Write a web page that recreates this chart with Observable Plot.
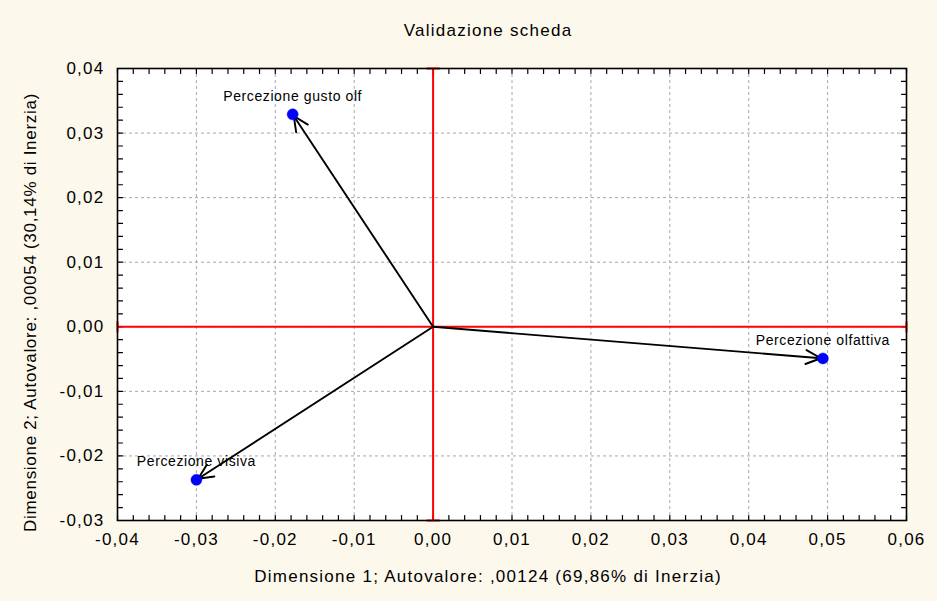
<!DOCTYPE html>
<html>
<head>
<meta charset="utf-8">
<script src="https://cdn.jsdelivr.net/npm/d3@7"></script>
<script src="https://cdn.jsdelivr.net/npm/@observablehq/plot@0.6"></script>
<style>
  html, body { margin: 0; padding: 0; background: #fdf8ec; }
  #chart svg text { letter-spacing: 1.25px; }
  #chart svg g.pt-labels text { letter-spacing: 0.6px; }
  #chart svg g.ylab text { letter-spacing: 0.7px; }
</style>
</head>
<body>
<div id="chart"></div>
<script>
// ---- data ----
const titleText = "Validazione scheda";
const xLabel = "Dimensione 1; Autovalore: ,00124 (69,86% di Inerzia)";
const yLabel = "Dimensione 2; Autovalore: ,00054 (30,14% di Inerzia)";
const names = ["Percezione gusto olf", "Percezione olfattiva", "Percezione visiva"];
const dim1 = [-0.0178, 0.0494, -0.0300];
const dim2 = [0.0329, -0.0049, -0.0237];
const xTicks = [-0.04, -0.03, -0.02, -0.01, 0.00, 0.01, 0.02, 0.03, 0.04, 0.05, 0.06];
const yTicks = [-0.03, -0.02, -0.01, 0.00, 0.01, 0.02, 0.03, 0.04];
const xDomain = [-0.04, 0.06];
const yDomain = [-0.03, 0.04];

const points = names.map((n, i) => ({name: n, x: dim1[i], y: dim2[i]}));
const xMinor = d3.range(-40, 61, 2).map(d => d / 1000);
const yMinor = d3.range(-30, 41, 2).map(d => d / 1000);
const fmt = d => d3.format(".2f")(Math.abs(d) < 1e-9 ? 0 : d).replace("−", "-").replace(".", ",");

// shapes
const capShape = {draw(ctx, l) { ctx.moveTo(0, -l / 2); ctx.lineTo(0, l / 2); }};
const tickShape = {draw(ctx, l) { ctx.moveTo(0, 0); ctx.lineTo(0, -l); }};
const vCaps = xDomain.map(x => ({x, y: 0}));      // ends of horizontal red line
const hCaps = yDomain.map(y => ({x: 0, y}));      // ends of vertical red line

// inward tick positions along the four frame edges
const bottomTicks = xMinor.map(x => ({x, y: yDomain[0]}));
const topTicks = xMinor.map(x => ({x, y: yDomain[1]}));
const leftTicks = yMinor.map(y => ({x: xDomain[0], y}));
const rightTicks = yMinor.map(y => ({x: xDomain[1], y}));
const tk = {x: "x", y: "y", length: 5, shape: tickShape, anchor: "start", stroke: "black", strokeWidth: 1.2};

const chart = Plot.plot({
  width: 937,
  height: 601,
  marginLeft: 117,
  marginRight: 31,
  marginTop: 68,
  marginBottom: 81,
  x: {domain: xDomain, label: null},
  y: {domain: yDomain, label: null},
  style: {background: "#fdf8ec", fontFamily: "'Liberation Sans', Arial, sans-serif", fontSize: "17px", color: "black"},
  marks: [
    Plot.frame({fill: "white", stroke: null}),
    Plot.gridX(xTicks, {stroke: "#a8a8a8", strokeOpacity: 1, strokeDasharray: "3,3", strokeWidth: 1}),
    Plot.gridY(yTicks, {stroke: "#a8a8a8", strokeOpacity: 1, strokeDasharray: "3,3", strokeWidth: 1}),
    // inward ticks on all four sides
    Plot.vector(bottomTicks, {...tk, rotate: 0}),
    Plot.vector(topTicks, {...tk, rotate: 180}),
    Plot.vector(leftTicks, {...tk, rotate: 90}),
    Plot.vector(rightTicks, {...tk, rotate: -90}),
    // tick labels
    Plot.axisX(xTicks, {anchor: "bottom", label: null, tickSize: 0, tickPadding: 12, tickFormat: fmt, fontSize: 17, fill: "black"}),
    Plot.axisY(yTicks, {anchor: "left", label: null, tickSize: 0, tickPadding: 13, tickFormat: fmt, fontSize: 17, fill: "black"}),
    // red zero lines
    Plot.ruleX([0], {stroke: "red", strokeWidth: 2}),
    Plot.ruleY([0], {stroke: "red", strokeWidth: 2}),
    Plot.vector(vCaps, {x: "x", y: "y", length: 10, shape: capShape, rotate: 0, anchor: "start", stroke: "red", strokeWidth: 2}),
    Plot.vector(hCaps, {x: "x", y: "y", length: 12, shape: capShape, rotate: 90, anchor: "start", stroke: "red", strokeWidth: 2}),
    Plot.frame({stroke: "black", strokeWidth: 1.6}),
    // arrows from origin
    Plot.arrow(points, {x1: () => 0, y1: () => 0, x2: "x", y2: "y", stroke: "black", strokeWidth: 1.9, headLength: 13, headAngle: 50, insetEnd: 2}),
    Plot.dot(points, {x: "x", y: "y", r: 5.5, fill: "#0000ff", stroke: "#0000ff", strokeWidth: 0.5}),
    Plot.text(points, {x: "x", y: "y", text: "name", dy: -18, fontSize: 14, fill: "black", className: "pt-labels"}),
    // titles
    Plot.text([titleText], {frameAnchor: "top", dy: -45, dx: -24, fontSize: 17, fill: "black"}),
    Plot.text([xLabel], {frameAnchor: "bottom", dy: 61, dx: -24, fontSize: 17, fill: "black"}),
    Plot.text([yLabel], {frameAnchor: "left", textAnchor: "middle", dx: -87, dy: 18, rotate: -90, fontSize: 17, fill: "black", className: "ylab"})
  ]
});
document.getElementById("chart").appendChild(chart);
</script>
</body>
</html>
